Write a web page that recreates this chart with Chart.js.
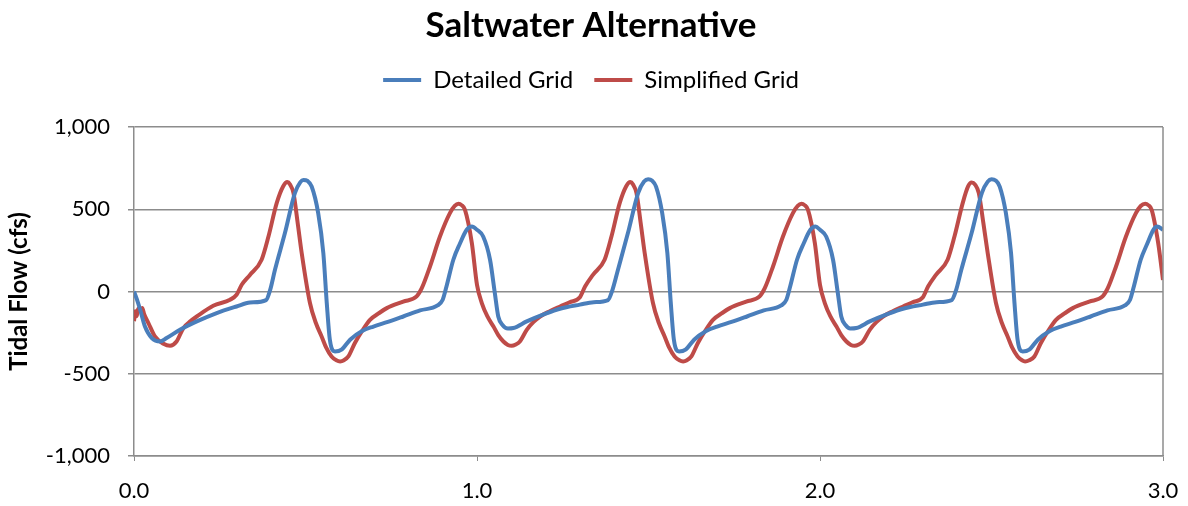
<!DOCTYPE html>
<html>
<head>
<meta charset="utf-8">
<script src="https://cdn.jsdelivr.net/npm/chart.js@4"></script>
<style>
  html, body { margin: 0; padding: 0; background: #fff; }
  #wrap { width: 1188px; height: 506px; }
</style>
</head>
<body>
<div id="wrap"><canvas id="flow-chart" width="1188" height="506"></canvas></div>
<script>
    // Detailed Grid (blue) - time in days, flow in cfs
    const detailedX = [
        0.000, 0.008, 0.018, 0.032, 0.052, 0.076, 0.095, 0.134, 0.183, 0.241, 0.299, 0.338,
        0.385, 0.397, 0.411, 0.440, 0.469, 0.485, 0.494, 0.506, 0.518, 0.537, 0.552, 0.562,
        0.571, 0.586, 0.605, 0.630, 0.665, 0.698, 0.740, 0.785, 0.834, 0.885, 0.900, 0.911,
        0.931, 0.950, 0.970, 0.985,
        1.000, 1.018, 1.038, 1.052, 1.062, 1.075, 1.090, 1.106, 1.145, 1.200, 1.242, 1.300, 1.340,
        1.382, 1.395, 1.411, 1.440, 1.470, 1.487, 1.499, 1.510, 1.522, 1.540, 1.555, 1.565,
        1.574, 1.589, 1.608, 1.633, 1.668, 1.700, 1.742, 1.787, 1.836, 1.887, 1.902, 1.913,
        1.933, 1.952, 1.972, 1.987,
        2.000, 2.018, 2.038, 2.052, 2.062, 2.075, 2.088, 2.106, 2.145, 2.200, 2.242, 2.300, 2.340,
        2.384, 2.397, 2.412, 2.442, 2.472, 2.489, 2.500, 2.512, 2.524, 2.542, 2.557, 2.567,
        2.576, 2.591, 2.610, 2.635, 2.670, 2.702, 2.744, 2.789, 2.838, 2.889, 2.904, 2.915,
        2.935, 2.954, 2.972, 2.983, 3.000
    ];
    const detailedY = [
        0, -45, -111, -213, -283, -304, -283, -233, -182, -131, -91, -67,
        -52, 10, 132, 355, 598, 665, 678, 672, 638, 476, 233, -70,
        -293, -365, -354, -293, -240, -213, -185, -152, -115, -85, -50, 30,
        193, 290, 375, 395,
        375, 334, 193, -10, -152, -205, -225, -222, -182, -135, -105, -80, -65,
        -52, 10, 132, 355, 600, 668, 683, 675, 638, 476, 233, -70,
        -293, -365, -354, -293, -240, -213, -185, -152, -115, -85, -50, 30,
        193, 290, 375, 395,
        375, 334, 193, -10, -152, -205, -225, -222, -182, -135, -105, -80, -65,
        -52, 10, 132, 355, 600, 668, 683, 675, 638, 476, 233, -70,
        -293, -365, -354, -293, -240, -213, -185, -152, -115, -85, -50, 30,
        193, 290, 375, 395, 375
    ];

    // Simplified Grid (red)
    const simplifiedX = [
        0.000, 0.004, 0.008, 0.012, 0.018, 0.024, 0.030, 0.042, 0.061, 0.086, 0.105, 0.124,
        0.144, 0.165, 0.183, 0.231, 0.280, 0.299, 0.314, 0.338, 0.372, 0.392, 0.416, 0.435,
        0.447, 0.455, 0.465, 0.477, 0.489, 0.513, 0.530, 0.547, 0.560, 0.576, 0.590, 0.601,
        0.612, 0.625, 0.644, 0.665, 0.688, 0.712, 0.737, 0.785, 0.824, 0.839, 0.863, 0.892,
        0.921, 0.935, 0.946, 0.955, 0.965, 0.985,
        1.000, 1.014, 1.030, 1.048, 1.062, 1.077, 1.090, 1.101, 1.113, 1.125, 1.145, 1.165,
        1.184, 1.212, 1.242, 1.270, 1.300, 1.315, 1.338, 1.372, 1.392, 1.416, 1.435, 1.447,
        1.455, 1.465, 1.477, 1.489, 1.513, 1.530, 1.547, 1.560, 1.576, 1.590, 1.601, 1.612,
        1.625, 1.644, 1.665, 1.688, 1.712, 1.737, 1.785, 1.824, 1.839, 1.863, 1.892, 1.921,
        1.935, 1.946, 1.955, 1.965, 1.985,
        2.000, 2.014, 2.030, 2.048, 2.062, 2.077, 2.090, 2.101, 2.113, 2.125, 2.145, 2.165,
        2.184, 2.212, 2.242, 2.270, 2.300, 2.315, 2.338, 2.372, 2.392, 2.416, 2.432, 2.442,
        2.452, 2.463, 2.476, 2.489, 2.513, 2.530, 2.547, 2.560, 2.576, 2.589, 2.598, 2.610,
        2.625, 2.644, 2.665, 2.688, 2.712, 2.737, 2.785, 2.824, 2.839, 2.863, 2.892, 2.921,
        2.935, 2.948, 2.957, 2.967, 2.986, 3.000
    ];
    const simplifiedY = [
        -180, -120, -150, -105, -110, -100, -140, -192, -273, -318, -330, -304,
        -222, -180, -152, -87, -50, -20, 41, 101, 193, 334, 537, 640,
        665, 650, 598, 420, 233, -70, -190, -273, -340, -395, -418, -425,
        -418, -395, -313, -240, -172, -135, -101, -61, -30, 20, 152, 334,
        476, 520, 533, 525, 496, 294,
        40, -70, -150, -213, -265, -304, -325, -330, -322, -304, -233, -185,
        -152, -120, -91, -65, -35, 30, 101, 193, 334, 537, 640, 665,
        650, 598, 420, 233, -70, -190, -273, -340, -395, -418, -425, -418,
        -395, -313, -240, -172, -135, -101, -61, -30, 20, 152, 334, 476,
        520, 533, 525, 496, 294,
        40, -70, -150, -213, -265, -304, -325, -330, -322, -304, -233, -185,
        -152, -120, -91, -65, -35, 30, 101, 193, 334, 537, 640, 662,
        650, 598, 420, 233, -70, -190, -273, -340, -395, -418, -425, -418,
        -395, -313, -240, -172, -135, -101, -61, -30, 20, 152, 334, 476,
        520, 533, 525, 496, 294, 70
    ];

    const yTicks = { min: -1000, max: 1000, step: 500 };
    const xTicks = { min: 0, max: 3, step: 1 };

    const blue = '#4A7EBB';
    const red = '#BE4B48';
    const gridColor = '#8C8C8C';
    const fontFamily = 'Lato, "Open Sans", sans-serif';

    function toPoints(xs, ys) {
        return xs.map((x, i) => ({ x: x, y: ys[i] }));
    }

    // right border of the plot area
    const frameBorder = {
        id: 'frameBorder',
        afterDraw(chart) {
            const { ctx, chartArea } = chart;
            ctx.save();
            ctx.strokeStyle = gridColor;
            ctx.lineWidth = 1.5;
            ctx.beginPath();
            ctx.moveTo(chartArea.right, chartArea.top);
            ctx.lineTo(chartArea.right, chartArea.bottom);
            ctx.stroke();
            ctx.restore();
        }
    };

    new Chart(document.getElementById('flow-chart'), {
        type: 'line',
        data: {
            datasets: [
                { label: 'Detailed Grid', data: toPoints(detailedX, detailedY), borderColor: blue, backgroundColor: blue },
                { label: 'Simplified Grid', data: toPoints(simplifiedX, simplifiedY), borderColor: red, backgroundColor: red }
            ]
        },
        options: {
            responsive: false,
            animation: false,
            parsing: false,
            layout: { padding: { left: 11, right: 17, top: 0, bottom: 0 } },
            elements: {
                point: { radius: 0 },
                line: { borderWidth: 4, cubicInterpolationMode: 'monotone' }
            },
            plugins: {
                title: {
                    display: true,
                    text: 'Saltwater Alternative',
                    color: '#000',
                    font: { family: fontFamily, size: 35, weight: 'bold' },
                    padding: { top: 5, bottom: 0 }
                },
                legend: {
                    position: 'top',
                    labels: {
                        color: '#000',
                        font: { family: fontFamily, size: 24 },
                        boxWidth: 38,
                        boxHeight: 4,
                        padding: 21,
                        generateLabels(chart) {
                            const items = Chart.defaults.plugins.legend.labels.generateLabels(chart);
                            items.forEach(item => { item.lineWidth = 0; });
                            return items;
                        }
                    }
                },
                tooltip: { enabled: false }
            },
            scales: {
                x: {
                    type: 'linear',
                    min: xTicks.min,
                    max: xTicks.max,
                    ticks: {
                        stepSize: xTicks.step,
                        color: '#000',
                        font: { family: fontFamily, size: 22 },
                        padding: 17,
                        maxRotation: 0,
                        callback: v => v.toFixed(1)
                    },
                    grid: { drawOnChartArea: false, drawTicks: true, tickLength: 5, color: gridColor },
                    border: { color: gridColor, width: 1.5 },
                    afterFit(scale) {
                        scale.height = 50;
                        scale.paddingRight = 25;
                        scale.paddingLeft = 0;
                    }
                },
                // empty spacer between legend and plot
                xTop: {
                    type: 'linear',
                    position: 'top',
                    min: xTicks.min,
                    max: xTicks.max,
                    ticks: { display: false },
                    grid: { display: false, drawTicks: false },
                    border: { display: false },
                    afterFit(scale) {
                        scale.height = 25;
                        scale.paddingRight = 0;
                        scale.paddingLeft = 0;
                    }
                },
                y: {
                    min: yTicks.min,
                    max: yTicks.max,
                    ticks: {
                        stepSize: yTicks.step,
                        color: '#000',
                        font: { family: fontFamily, size: 22 },
                        padding: 18
                    },
                    grid: { color: gridColor, lineWidth: 1.5, tickLength: 6 },
                    border: { color: gridColor, width: 1.5 },
                    title: {
                        display: true,
                        text: 'Tidal Flow (cfs)',
                        color: '#000',
                        font: { family: fontFamily, size: 24, weight: 'bold' },
                        padding: { top: -6, bottom: 0 }
                    },
                    afterFit(scale) { scale.width = 123; }
                }
            }
        },
        plugins: [frameBorder]
    });
</script>
</body>
</html>
